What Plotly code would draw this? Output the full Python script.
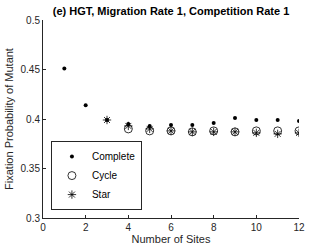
import plotly.graph_objects as go

sites_complete = [1, 2, 3, 4, 5, 6, 7, 8, 9, 10, 11, 12]
complete = [0.451, 0.414, 0.399, 0.395, 0.393, 0.394, 0.394, 0.396, 0.401, 0.399, 0.399, 0.398]
sites_cycle = [4, 5, 6, 7, 8, 9, 10, 11, 12]
cycle = [0.390, 0.388, 0.388, 0.387, 0.388, 0.387, 0.388, 0.388, 0.388]
sites_star = [3, 4, 5, 6, 7, 8, 9, 10, 11, 12]
star = [0.399, 0.393, 0.390, 0.388, 0.387, 0.387, 0.387, 0.386, 0.385, 0.386]

FONT = "Liberation Sans, Arial, sans-serif"

fig = go.Figure()
fig.add_trace(go.Scatter(x=sites_complete, y=complete, mode="markers", name="Complete",
                         marker=dict(symbol="circle", size=4, color="black")))
fig.add_trace(go.Scatter(x=sites_cycle, y=cycle, mode="markers", name="Cycle",
                         marker=dict(symbol="circle-open", size=8, color="black", line=dict(width=0.8))))
fig.add_trace(go.Scatter(x=sites_star, y=star, mode="markers", name="Star",
                         marker=dict(symbol="asterisk-open", size=7, color="black", line=dict(width=0.8))))

axis_common = dict(showline=True, linecolor="#262626", linewidth=1, ticks="inside", ticklen=3,
                   tickcolor="#262626", showgrid=False, zeroline=False, mirror=False, automargin=False,
                   tickfont=dict(family=FONT, size=10, color="#262626"))
fig.update_xaxes(range=[0, 12], dtick=2, tick0=0,
                 title=dict(text="Number of Sites", standoff=1,
                            font=dict(family=FONT, size=11, color="#262626")),
                 **axis_common)
fig.update_yaxes(range=[0.3, 0.5], dtick=0.05, tick0=0.3,
                 title=dict(text="Fixation Probability of Mutant", standoff=4,
                            font=dict(family=FONT, size=11, color="#262626")),
                 **axis_common)

fig.update_layout(
    width=332, height=249,
    margin=dict(l=43, r=33, t=20, b=31),
    plot_bgcolor="white", paper_bgcolor="white",
    title=dict(text="<b>(e) HGT, Migration Rate 1, Competition Rate 1</b>", xref="paper", x=0.5,
               xanchor="center", yref="container", y=0.955, yanchor="middle",
               font=dict(family=FONT, size=11, color="black")),
    legend=dict(x=0.031, y=0.04, xanchor="left", yanchor="bottom",
                bordercolor="#262626", borderwidth=1, bgcolor="white",
                font=dict(family=FONT, size=10, color="black"),
                tracegroupgap=0, itemwidth=30),
    showlegend=True,
)

fig.write_html("out.html", config={"displayModeBar": False},
               post_script="document.body.style.margin='0';")
